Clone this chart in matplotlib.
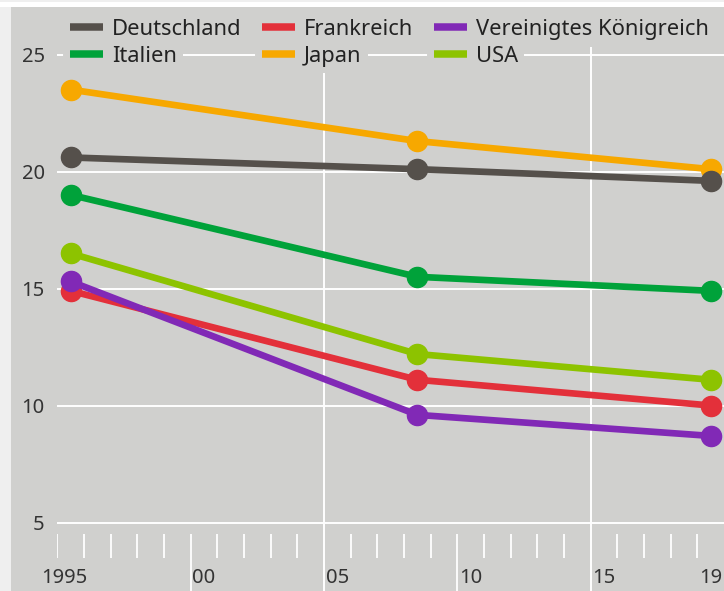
import numpy as np
import matplotlib.pyplot as plt
from matplotlib.patches import Rectangle
from matplotlib.lines import Line2D
from matplotlib.legend_handler import HandlerTuple

plt.rcParams['font.family'] = ['Noto Sans', 'DejaVu Sans']

# data
years = [1995, 2008, 2019]
deutschland = [20.6, 20.1, 19.6]
frankreich = [14.9, 11.1, 10.0]
vk = [15.3, 9.6, 8.7]
italien = [19.0, 15.5, 14.9]
japan = [23.5, 21.3, 20.1]
usa = [16.5, 12.2, 11.1]

y_ticks = [5, 10, 15, 20, 25]
x_labels = ['1995', '00', '05', '10', '15', '19']
x_label_years = [1995, 2000, 2005, 2010, 2015, 2019]

panel = '#d0d0ce'
outer = '#efefef'

series = [
    ('Deutschland', deutschland, '#55504b'),
    ('Italien', italien, '#00a23a'),
    ('Frankreich', frankreich, '#e3303a'),
    ('Japan', japan, '#f7a800'),
    ('Vereinigtes Königreich', vk, '#8129b6'),
    ('USA', usa, '#8dc300'),
]
# drawing order (back to front)
draw_order = ['Japan', 'Deutschland', 'Italien', 'USA', 'Frankreich', 'Vereinigtes Königreich']

W, H = 724, 591
fig = plt.figure(figsize=(W / 100, H / 100), dpi=100, facecolor=panel)

# outer light frame left and top
fig.patches.append(Rectangle((0, 0), 11 / W, 1, transform=fig.transFigure,
                             fc=outer, ec='none', zorder=0))
fig.patches.append(Rectangle((0, 1 - 7 / H), 1, 7 / H, transform=fig.transFigure,
                             fc='white', ec='none', zorder=0))
fig.patches.append(Rectangle((0, 1 - 2 / H), 1, 2 / H, transform=fig.transFigure,
                             fc=outer, ec='none', zorder=0))

# axes: 1995 at x=57.3px, 2020 at right edge; y=5 at 522.5px, 23.4 px/unit
ax_left = 57.3 / W
ax_top_px = 47
ppu = 23.4
y5_px = 522.5
ymax = 5 + (y5_px - ax_top_px) / ppu
ymin = 5 - (H - y5_px) / ppu
ax = fig.add_axes([ax_left, 0, 1 - ax_left, 1 - ax_top_px / H])
ax.set_facecolor(panel)
ax.set_xlim(1995, 2020)
ax.set_ylim(ymin, ymax)
for s in ax.spines.values():
    s.set_visible(False)

# horizontal grid
for v in y_ticks:
    ax.axhline(v, color='white', lw=1.4, zorder=1)
# vertical gridlines
for v in [2005, 2015]:
    ax.axvline(v, color='white', lw=1.4, zorder=1)

# year ticks below the axis
tick_top = 5 - 11.5 / ppu
tick_bot = 5 - 35.5 / ppu
all_years = np.arange(1995, 2020)
short = [y for y in all_years if y not in (2000, 2005, 2010, 2015)]
ax.vlines(short, tick_bot, tick_top, color='white', lw=1.3, zorder=1)
ax.vlines([2000, 2010], ymin, tick_top, color='white', lw=1.3, zorder=1)

ax.set_xticks([])
ax.set_yticks(y_ticks)
ax.tick_params(axis='y', length=0, pad=9, labelsize=14.5, labelcolor='#333333')

# x labels centred in the year slot
label_y = 5 - 55.5 / ppu
for yr, lab in zip(x_label_years, x_labels):
    xpos = yr + 0.25 if lab == '1995' else yr + 0.5
    ax.text(xpos, label_y, lab, ha='center', va='center', fontsize=14.5,
            color='#333333', clip_on=False)

# lines
colors = {n: c for n, _, c in series}
values = {n: v for n, v, _ in series}
xs = [y + 0.5 for y in years]
for i, name in enumerate(draw_order):
    ax.plot(xs, values[name], color=colors[name], lw=4.8, marker='o',
            markersize=14.5, solid_capstyle='round', zorder=3 + i, clip_on=False)

# legend with panel-coloured backing so the gridline is interrupted
handles = []
labels = []
for name, _, c in series:
    bg = Line2D([], [], color=panel, lw=10, solid_capstyle='projecting')
    fg = Line2D([], [], color=c, lw=5.4, solid_capstyle='butt')
    handles.append((bg, fg))
    labels.append(name)
leg = fig.legend(handles, labels, ncol=3, loc='upper left',
                 bbox_to_anchor=(59 / W, 1 - 8 / H), frameon=False,
                 fontsize=15.8, borderpad=0, handlelength=1.5,
                 handletextpad=0.4, columnspacing=0.95, labelspacing=0.26,
                 handler_map={tuple: HandlerTuple(ndivide=1, pad=0)})
for t in leg.get_texts():
    t.set_color('#222222')
    t.set_bbox(dict(boxstyle='square,pad=0.3', fc=panel, ec='none'))

fig.savefig('out.png', dpi=100, facecolor=panel)
